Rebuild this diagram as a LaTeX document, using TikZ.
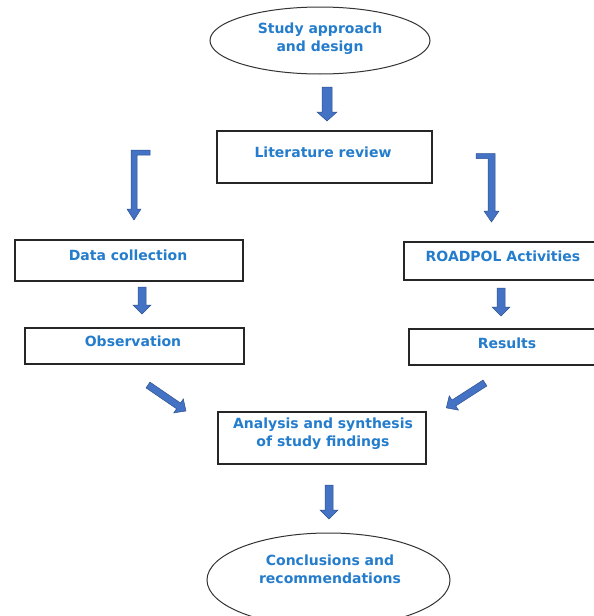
\documentclass[tikz,border=0pt]{standalone}
\usepackage{fontspec}
\setmainfont{DejaVu Sans}
\definecolor{txtblue}{RGB}{36,124,204}
\definecolor{arrfill}{RGB}{68,114,196}
\definecolor{arrline}{RGB}{47,82,143}
\newcommand\blockarr[4]{% start, angle, length, halfwidth shaft
  \begin{scope}[shift={#1},rotate=#2]
    \filldraw[arrowbody] (0,-#4) -- ({#3-9},-#4) -- ({#3-9},{-#4-5}) -- (#3,0) -- ({#3-9},{#4+5}) -- ({#3-9},#4) -- (0,#4) -- cycle;
  \end{scope}}
\begin{document}
\begin{tikzpicture}[x=1pt,y=-1pt,
  lbl/.style={font=\fontsize{14}{17.5}\selectfont\bfseries, text=txtblue, align=center},
  boxs/.style={draw=black!85, line width=1.1pt, fill=white},
  ell/.style={draw=black!80, line width=1pt},
  arrowbody/.style={fill=arrfill, draw=arrline, line width=0.5pt, line join=miter}]
\useasboundingbox (0,0) rectangle (594,616);
\fill[white] (0,0) rectangle (594,616);

% ellipses
\draw[ell] (320,40.5) ellipse [x radius=110, y radius=33.5];
\node[lbl] (study) at (320,38.5) {Study approach\\and design};
\draw[ell] (328.5,580) ellipse [x radius=121.5, y radius=47];
\node[lbl] (concl) at (330,569.5) {Conclusions and\\recommendations};

% boxes
\draw[boxs] (217,131) rectangle (432,183);
\node[lbl] (lit) at (323,152) {Literature review};
\draw[boxs] (15,240) rectangle (243,281);
\node[lbl] (data) at (128,255) {Data collection};
\draw[boxs] (404,242) rectangle (600,280);
\node[lbl] (road) at (503,256) {ROADPOL Activities};
\draw[boxs] (25,328) rectangle (244,364);
\node[lbl] (obs) at (133,341) {Observation};
\draw[boxs] (409,329) rectangle (600,365);
\node[lbl] (res) at (507,343) {Results};
\draw[boxs] (218,412) rectangle (426,464);
\node[lbl] (ana) at (323,433.5) {Analysis and synthesis\\of study findings};

% straight block arrows
\blockarr{(327,87)}{-90}{34}{5}
\blockarr{(142,287)}{-90}{27}{4}
\blockarr{(501,288)}{-90}{28}{4}
\blockarr{(329,485)}{-90}{34}{4}
\blockarr{(148,385)}{-34.4}{46}{3.5}
\blockarr{(485,383)}{-147.3}{46}{3.5}

% bent arrows
\filldraw[arrowbody] (150,150) -- (131,150) -- (131,209) -- (127,209) -- (134,220) -- (141,209) -- (137,209) -- (137,155) -- (150,155) -- cycle;
\filldraw[arrowbody] (476,153.5) -- (495,153.5) -- (495,211) -- (499,211) -- (491.5,222) -- (484,211) -- (488,211) -- (488,158.5) -- (476,158.5) -- cycle;
\end{tikzpicture}
\end{document}
